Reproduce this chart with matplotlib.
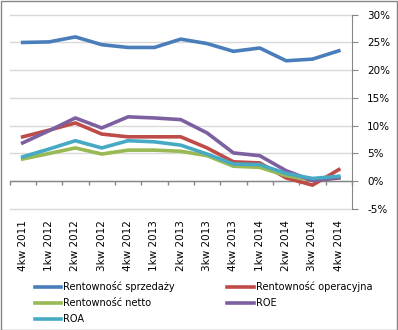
import matplotlib
matplotlib.use("Agg")
from matplotlib import pyplot as plt
from matplotlib.patches import Rectangle

# quarters on the x axis
quarters = ["4kw 2011", "1kw 2012", "2kw 2012", "3kw 2012", "4kw 2012", "1kw 2013",
            "2kw 2013", "3kw 2013", "4kw 2013", "1kw 2014", "2kw 2014", "3kw 2014", "4kw 2014"]

# values in %
sprzedazy = [25.0, 25.1, 26.0, 24.6, 24.1, 24.1, 25.6, 24.8, 23.4, 24.0, 21.7, 22.0, 23.5]
operacyjna = [8.0, 9.2, 10.5, 8.5, 8.0, 8.0, 8.0, 6.0, 3.5, 3.3, 0.6, -0.7, 2.1]
netto = [4.0, 5.0, 6.0, 4.9, 5.6, 5.6, 5.4, 4.6, 2.7, 2.5, 1.0, 0.2, 0.6]
roe = [6.9, 9.1, 11.4, 9.6, 11.6, 11.4, 11.1, 8.7, 5.1, 4.6, 1.9, 0.1, 0.6]
roa = [4.4, 5.8, 7.3, 6.0, 7.3, 7.1, 6.5, 4.9, 3.1, 3.0, 1.4, 0.5, 0.9]

yticks = [-5, 0, 5, 10, 15, 20, 25, 30]

fig = plt.figure(figsize=(3.98, 3.30), dpi=100)
ax = fig.add_axes([9.5/398, 120.5/330, (352-9.5)/398, (315.3-120.5)/330])

xs = [i + 0.5 for i in range(len(quarters))]
lw = 2.6
l1, = ax.plot(xs, sprzedazy, color="#4A7EBB", lw=lw, label="Rentowność sprzedaży")
l2, = ax.plot(xs, operacyjna, color="#BE4B48", lw=lw, label="Rentowność operacyjna")
l3, = ax.plot(xs, netto, color="#98B954", lw=lw, label="Rentowność netto")
l4, = ax.plot(xs, roe, color="#7D60A0", lw=lw, label="ROE")
l5, = ax.plot(xs, roa, color="#46AAC5", lw=lw, label="ROA")

ax.set_xlim(0, len(quarters))
ax.set_ylim(yticks[0] - 0.09, yticks[-1])

# y axis on the right
ax.yaxis.tick_right()
ax.set_yticks(yticks)
ax.set_yticklabels([f"{v}%" for v in yticks])
ax.tick_params(axis="y", direction="out", length=4, color="#868686", labelsize=7.5,
               pad=7, labelcolor="black")
ax.yaxis.grid(True, color="#D9D9D9", lw=1, clip_on=False)
ax.set_axisbelow(True)

for s in ["left", "top", "bottom"]:
    ax.spines[s].set_visible(False)
ax.spines["right"].set_color("#868686")
ax.spines["right"].set_bounds(yticks[0], yticks[-1])

# category labels at the bottom
ax.set_xticks(xs)
ax.set_xticklabels(quarters, rotation=90, fontsize=7.5)
ax.tick_params(axis="x", length=0, pad=8)

# category axis line crossing at 0, with tick marks between categories
ax.axhline(0, color="#868686", lw=1, zorder=1.5)
ax.vlines(range(len(quarters) + 1), -0.75, 0, color="#868686", lw=1, zorder=1.5,
          clip_on=False)

handles = [l1, l3, l5, l2, l4]
fig.legend(handles=handles, labels=[h.get_label() for h in handles], ncol=2,
           loc="upper left", bbox_to_anchor=(35/398, 1 - 281.5/330), frameon=False,
           fontsize=7, handlelength=2.7, handletextpad=0.2, columnspacing=5.4,
           labelspacing=0.6, borderaxespad=0, borderpad=0)

fig.patches.append(Rectangle((0.5/398, 0.5/330), 1 - 1.5/398, 1 - 1.5/330,
                             transform=fig.transFigure, fill=False,
                             edgecolor="#868686", lw=1))

fig.savefig("out.png", dpi=100)
